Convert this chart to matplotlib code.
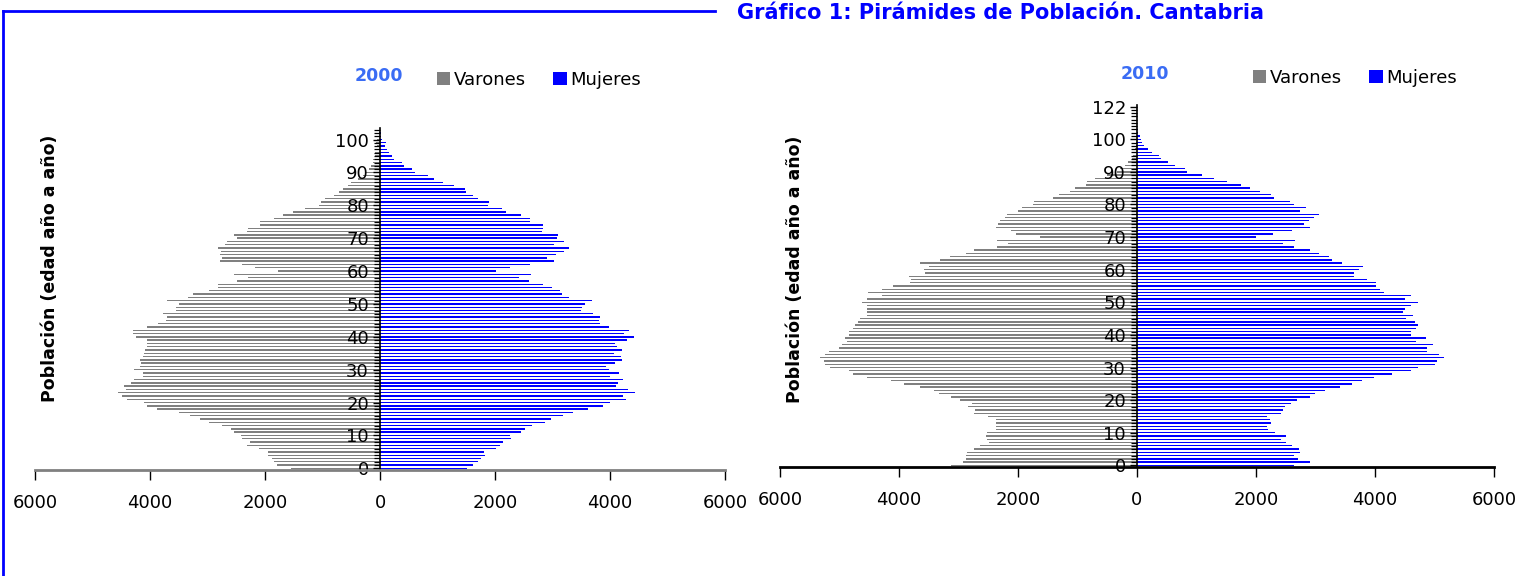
import numpy as np
import matplotlib
matplotlib.use("Agg")
import matplotlib.pyplot as plt
from matplotlib.patches import Patch
from matplotlib.lines import Line2D
from matplotlib.ticker import FuncFormatter, MultipleLocator

# === DATOS (edad año a año, 0 -> último) ===
varones_2000 = [1550, 1800, 1850, 1870, 1950, 1950, 2100, 2320, 2260, 2400,
                2420, 2540, 2600, 2750, 2980, 3130, 3300, 3500, 3870, 4060,
                4100, 4400, 4490, 4560, 4420, 4450, 4330, 4280, 4120, 4120,
                4280, 4180, 4150, 4170, 4130, 4100, 4080, 4060, 4060, 4050,
                4240, 4290, 4290, 4050, 3862, 3717, 3700, 3775, 3545, 3556,
                3498, 3712, 3343, 3256, 2980, 2824, 2824, 2490, 2300, 2536,
                1770, 2173, 2400, 2778, 2750, 2778, 2766, 2824, 2690, 2660,
                2490, 2536, 2320, 2290, 2085, 2085, 1840, 1680, 1510, 1310,
                1060, 1030, 960, 807, 715, 645, 560, 500, 385, 300,
                240, 185, 155, 127, 115, 95, 95, 70, 50, 70,
                50, 25, 15, 8]
mujeres_2000 = [1518, 1621, 1708, 1760, 1829, 1812, 2020, 2089, 2141, 2279,
                2262, 2452, 2522, 2643, 2868, 2972, 3180, 3353, 3612, 3872,
                3993, 4270, 4218, 4443, 4305, 4097, 4132, 4218, 3993, 4149,
                3976, 3924, 4080, 4201, 4183, 4062, 4201, 4114, 4080, 4287,
                4426, 4235, 4322, 3976, 3820, 3803, 3820, 3699, 3491, 3508,
                3560, 3681, 3283, 3162, 3128, 2989, 2833, 2591, 2418, 2625,
                2020, 2262, 2608, 3024, 2902, 3058, 3197, 3283, 3024, 3197,
                3076, 3093, 2816, 2833, 2833, 2614, 2608, 2452, 2193, 2124,
                1881, 1898, 1708, 1621, 1500, 1483, 1293, 1102, 946, 842,
                617, 565, 410, 375, 240, 200, 155, 115, 80, 100,
                30, 20, 10, 5]
varones_2010 = [3123, 2927, 2871, 2871, 2860, 2736, 2636, 2479, 2524, 2535,
                2524, 2367, 2367, 2367, 2367, 2496, 2736, 2720, 2832, 2776,
                2971, 3123, 3335, 3419, 3643, 3923, 4130, 4538, 4773, 4846,
                5165, 5238, 5266, 5333, 5250, 5171, 5014, 4958, 4874, 4902,
                4846, 4846, 4773, 4734, 4695, 4650, 4538, 4538, 4538, 4538,
                4622, 4538, 4287, 4522, 4281, 4102, 3811, 3800, 3828, 3559,
                3576, 3497, 3654, 3307, 3139, 2871, 2736, 2356, 2160, 2356,
                1628, 2031, 2115, 2367, 2328, 2300, 2216, 2188, 1992, 1936,
                1740, 1723, 1415, 1315, 1125, 1040, 855, 845, 705, 510,
                340, 285, 200, 145, 90, 60, 45, 30, 20, 15,
                10, 6, 4, 2, 0, 0, 0, 0, 0, 0,
                0]
mujeres_2010 = [2632, 2900, 2699, 2632, 2732, 2716, 2598, 2497, 2413, 2497,
                2312, 2195, 2178, 2245, 2228, 2178, 2413, 2447, 2480, 2581,
                2682, 2900, 2984, 3152, 3404, 3606, 3774, 3975, 4278, 4597,
                4731, 5000, 5050, 5168, 5084, 4882, 4866, 4983, 4681, 4849,
                4597, 4597, 4681, 4731, 4664, 4513, 4647, 4463, 4496, 4597,
                4731, 4496, 4597, 4143, 4076, 4009, 4009, 3858, 3640, 3640,
                3723, 3791, 3438, 3270, 3220, 3051, 2900, 2632, 2447, 2648,
                1993, 2279, 2598, 2900, 2800, 2884, 2968, 3051, 2732, 2833,
                2632, 2564, 2296, 2245, 2060, 1893, 1741, 1506, 1288, 1086,
                834, 800, 633, 515, 398, 364, 246, 180, 112, 90,
                62, 45, 22, 10, 5, 0, 0, 0, 0, 0,
                0]

ticks_edad = [0, 10, 20, 30, 40, 50, 60, 70, 80, 90, 100]
etiquetas_2000 = ["0", "10", "20", "30", "40", "50", "60", "70", "80", "90", "100"]
ticks_edad_2010 = [0, 10, 20, 30, 40, 50, 60, 70, 80, 90, 100, 110]
etiquetas_2010 = ["0", "10", "20", "30", "40", "50", "60", "70", "80", "90", "100", "122"]
ticks_x = [-6000, -4000, -2000, 0, 2000, 4000, 6000]

GRIS = "#808080"
AZUL = "#0000ff"
AZUL_TITULO = "#3a6cf4"

W, H = 1519, 576
fig = plt.figure(figsize=(W / 100, H / 100), dpi=100)
plt.rcParams["font.family"] = ["DejaVu Sans"]


def px(x0, y0, x1, y1):
    # rectangulo en pixeles (origen arriba-izquierda) -> fraccion de figura
    return [x0 / W, 1 - y1 / H, (x1 - x0) / W, (y1 - y0) / H]


def piramide(rect, varones, mujeres, yticks, ylabels, color_eje_x):
    ax = fig.add_axes(rect)
    edades = np.arange(len(varones))
    ax.barh(edades, -np.array(varones), height=0.42, color=GRIS, linewidth=0)
    ax.barh(edades, mujeres, height=0.42, color=AZUL, linewidth=0)

    ax.set_xlim(-6000, 6000)
    ax.set_ylim(-0.5, len(varones) - 0.5)
    ax.set_xticks(ticks_x)
    ax.xaxis.set_major_formatter(FuncFormatter(lambda v, p: f"{abs(v):.0f}"))
    ax.set_yticks(yticks)
    ax.set_yticklabels(ylabels)
    ax.yaxis.set_minor_locator(MultipleLocator(1))

    for s in ["top", "right"]:
        ax.spines[s].set_visible(False)
    ax.spines["left"].set_position(("data", 0))
    ax.spines["left"].set_linewidth(1.2)
    ax.spines["bottom"].set_color(color_eje_x)
    ax.spines["bottom"].set_linewidth(2)

    ax.tick_params(axis="x", direction="out", length=7, width=1, pad=10,
                   labelsize=13, color="black")
    ax.tick_params(axis="y", which="major", direction="out", length=5, width=1,
                   pad=3, labelsize=13)
    ax.tick_params(axis="y", which="minor", direction="out", length=4, width=0.9)
    return ax


# === PIRAMIDE 2000 ===
ax1 = piramide(px(35, 128, 725, 470), varones_2000, mujeres_2000,
               ticks_edad, etiquetas_2000, GRIS)
# === PIRAMIDE 2010 ===
ax2 = piramide(px(780, 105, 1494, 467), varones_2010, mujeres_2010,
               ticks_edad_2010, etiquetas_2010, "black")

# etiquetas eje y
fig.text(50 / W, 1 - 268 / H, "Población (edad año a año)", rotation=90,
         ha="center", va="center", fontsize=12.5, fontweight="bold")
fig.text(795 / W, 1 - 269 / H, "Población (edad año a año)", rotation=90,
         ha="center", va="center", fontsize=12.5, fontweight="bold")

# años + leyendas
fig.text(379 / W, 1 - 76 / H, "2000", ha="center", va="center",
         fontsize=12.5, fontweight="bold", color=AZUL_TITULO)
fig.text(1145 / W, 1 - 74 / H, "2010", ha="center", va="center",
         fontsize=12.5, fontweight="bold", color=AZUL_TITULO)

handles = [Patch(facecolor=GRIS, label="Varones"), Patch(facecolor=AZUL, label="Mujeres")]
for cx, cy in [(539, 80), (1355, 78)]:
    fig.legend(handles=handles, loc="center", bbox_to_anchor=(cx / W, 1 - cy / H),
               ncol=2, frameon=False, fontsize=13, handlelength=0.75,
               handleheight=0.75, handletextpad=0.2, columnspacing=1.5,
               borderaxespad=0, borderpad=0)

# === MARCO Y TITULO ===
fig.add_artist(Line2D([3 / W, 715 / W], [1 - 11 / H, 1 - 11 / H], color=AZUL, lw=2))
fig.add_artist(Line2D([3 / W, 3 / W], [1 - 11 / H, 0], color=AZUL, lw=2))
fig.text(737 / W, 1 - 13 / H, "Gráfico 1: Pirámides de Población. Cantabria",
         ha="left", va="center", fontsize=15, fontweight="bold", color=AZUL)

fig.savefig("out.png", dpi=100)
